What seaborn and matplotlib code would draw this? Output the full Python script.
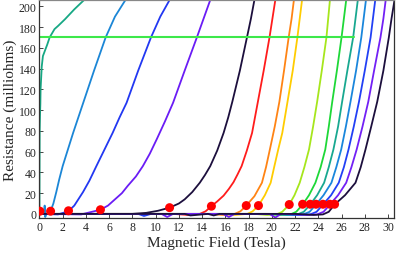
import numpy as np
import pandas as pd
import matplotlib
matplotlib.use('Agg')
import matplotlib.pyplot as plt
import seaborn as sns

# curves: field (T) and resistance (milliohms)
b_01 = [0.0, 0.02, 0.05, 0.08, 0.1, 0.2, 0.3, 0.5, 0.67, 0.88, 1.3, 1.6, 2.2, 3.0, 3.84]
r_01 = [0, 80, 95, 106, 120, 142, 152, 158, 163, 170, 178, 181, 187.5, 197, 206]
b_02 = [0.0, 0.4, 0.45, 0.5, 0.6, 0.96, 1.2, 1.45, 1.7, 2.0, 2.45, 2.9, 3.35, 3.8, 4.7, 5.7, 6.5, 7.4]
r_02 = [0, 0, 8, -3, 0, 2.6, 10, 21, 33, 46, 62, 78, 93, 108, 138, 170, 190, 206]
b_03 = [0.0, 1.6, 2.5, 3.0, 3.75, 4.3, 4.9, 5.6, 6.3, 6.9, 7.5, 8.5, 9.6, 10.4, 11.2]
r_03 = [0, -0.5, 2.6, 8, 21, 32, 46, 62, 78, 93, 107, 138, 170, 190, 206]
b_04 = [0.0, 3.6, 5.25, 5.9, 6.5, 7.1, 7.6, 8.3, 8.9, 9.5, 10.1, 10.8, 11.5, 12.5, 13.55, 14.7]
r_04 = [0, -0.5, 4, 8, 14, 20, 27, 36, 46, 58, 72, 89, 107, 138, 170, 206]
b_05 = [0.0, 8.0, 9.2, 10.2, 11.2, 12.0, 12.5, 13.15, 13.8, 14.25, 14.7, 15.3, 15.85, 16.25, 16.6, 17.25, 17.86, 18.2, 18.5]
r_05 = [0, 0, 1, 3, 6, 10, 14, 21, 30, 37.5, 46, 61, 78, 93, 108, 138, 170, 188, 206]
b_06 = [0.0, 11.5, 12.8, 13.8, 14.3, 14.8, 15.3, 15.85, 16.3, 16.7, 17.05, 17.4, 17.85, 18.3, 18.8, 19.3, 19.8, 20.05, 20.3]
r_06 = [0, 0, -1, 0, 2.5, 7.4, 12, 17.6, 24, 30.5, 38, 46, 61, 78, 108, 138, 170, 188, 206]
b_07 = [0.0, 14.5, 15.8, 16.8, 17.3, 17.8, 18.5, 19.15, 19.5, 19.85, 20.25, 20.65, 21.05, 21.45, 21.7, 21.9]
r_07 = [0, 0, -1, 0, 2.5, 8, 17, 30, 45, 63, 84, 108, 138, 170, 188, 206]
b_08 = [0.0, 15.5, 16.8, 17.9, 18.35, 18.85, 19.4, 19.9, 20.2, 20.55, 20.9, 21.35, 21.8, 22.2, 22.4, 22.6]
r_08 = [0, 0, -1, 0, 2.5, 8, 18, 30, 45, 62, 78, 108, 138, 170, 188, 206]
b_09 = [0.0, 18.5, 19.6, 20.4, 20.9, 21.5, 21.95, 22.4, 22.8, 23.2, 23.55, 23.9, 24.3, 24.7, 24.85, 25.0]
r_09 = [0, 0, -1, -0.5, 2, 9, 18, 30, 45, 62, 84, 108, 138, 170, 188, 206]
b_10 = [0.0, 19.5, 20.7, 21.6, 22.1, 22.65, 23.2, 23.75, 24.2, 24.6, 24.9, 25.2, 25.6, 26.0, 26.2, 26.4]
r_10 = [0, 0, -1, -0.5, 2, 9, 18, 30, 45, 62, 84, 108, 138, 170, 188, 206]
b_11 = [0.0, 20.0, 21.3, 22.2, 22.75, 23.3, 23.9, 24.5, 24.9, 25.3, 25.7, 26.05, 26.5, 27.0, 27.2, 27.4]
r_11 = [0, 0, -1, -0.5, 2, 9, 18, 30, 45, 62, 84, 108, 138, 170, 188, 206]
b_12 = [0.0, 20.5, 21.8, 22.7, 23.25, 23.8, 24.45, 25.13, 25.55, 25.97, 26.37, 26.77, 27.25, 27.7, 27.9, 28.1]
r_12 = [0, 0, -1, -0.5, 2, 9, 18, 30, 45, 62, 84, 108, 138, 170, 188, 206]
b_13 = [0.0, 8.5, 9.0, 9.6, 21.0, 22.4, 23.3, 23.85, 24.4, 25.1, 25.76, 26.2, 26.6, 27.05, 27.5, 28.0, 28.5, 28.7, 28.9]
r_13 = [0, 0, -2, 0, 0, -1, -0.5, 2, 9, 18, 30, 45, 62, 84, 108, 138, 170, 188, 206]
b_14 = [0.0, 10.5, 11.0, 11.5, 15.8, 16.3, 16.8, 19.8, 20.3, 20.8, 21.5, 23.0, 23.9, 24.45, 25.0, 25.7, 26.4, 26.85, 27.3, 27.8, 28.3, 28.8, 29.35, 29.6, 29.8]
r_14 = [0, 0, -3, 0, 0, -3, 0, 0, -3.5, 0, 0, -1, -0.5, 2, 9, 18, 30, 45, 62, 84, 108, 138, 170, 188, 206]
b_15 = [0.0, 12.5, 13.0, 14.5, 15.0, 15.5, 22.0, 23.6, 24.4, 24.9, 25.4, 26.3, 27.2, 27.65, 28.06, 28.55, 29.07, 29.6, 30.07, 30.3, 30.56]
r_15 = [0, 0, -1.5, 0, -1.5, 0, 0, -1, -0.5, 2, 9, 18, 30, 45, 62, 84, 108, 138, 170, 188, 206]

curve_colors = ['#17a884', '#1b86d6', '#2238f2', '#6a1cf5', '#1c0f3d',
                '#ff1c1c', '#ff8414', '#ffcc00', '#a6e61c', '#1ed838',
                '#18a890', '#1a86dc', '#2240f5', '#7220f5', '#1c0f3d']

# onset markers
dot_b = [0.04, 0.96, 2.5, 5.25, 11.2, 14.8, 17.8, 18.85, 21.5, 22.65, 23.3, 23.8, 24.4, 25.0, 25.4]
dot_r = [2.6, 2.6, 3, 4, 6, 7.4, 8, 8, 9, 9.3, 9.3, 9.3, 9.3, 9.3, 9.3]

# horizontal reference line
ref_b = [0.0, 27.1]
ref_r = [170, 170]

fields = [b_01, b_02, b_03, b_04, b_05, b_06, b_07, b_08, b_09, b_10, b_11, b_12, b_13, b_14, b_15]
resist = [r_01, r_02, r_03, r_04, r_05, r_06, r_07, r_08, r_09, r_10, r_11, r_12, r_13, r_14, r_15]

rows = []
for i, (bb, rr) in enumerate(zip(fields, resist)):
    for b, r in zip(bb, rr):
        rows.append({'curve': i, 'B': b, 'R': r})
df = pd.DataFrame(rows)

sns.set_style('ticks')
plt.rcParams['font.family'] = ['Liberation Serif', 'DejaVu Serif']
plt.rcParams['xtick.direction'] = 'in'
plt.rcParams['ytick.direction'] = 'in'

fig = plt.figure(figsize=(4.15, 2.55), dpi=100)
ax = fig.add_axes([0.095, 0.141, 0.854, 0.855])

sns.lineplot(data=df, x='B', y='R', hue='curve', palette=curve_colors,
             estimator=None, sort=False, lw=1.3, legend=False, ax=ax)
for line in ax.lines:
    line.set_solid_joinstyle('round')
sns.lineplot(x=ref_b, y=ref_r, color='#3de84a', lw=1.5, ax=ax)
sns.scatterplot(x=dot_b, y=dot_r, color='#ff0000', s=42, edgecolor='none', zorder=5, ax=ax)

ax.set_xlim(0, 30.5)
ax.set_ylim(-4, 206)
ax.set_xticks(np.arange(0, 31, 2))
ax.set_yticks(np.arange(0, 201, 20))
ax.tick_params(labelsize=8.5, length=3, width=0.6, pad=2)
ax.set_xlabel('Magnetic Field (Tesla)', fontsize=11, labelpad=2)
ax.set_ylabel('Resistance (milliohms)', fontsize=11, labelpad=1)
for s in ['left', 'bottom', 'right']:
    ax.spines[s].set_color('#333333')
ax.spines['top'].set_color('#888888')
for s in ax.spines.values():
    s.set_linewidth(0.9)

fig.savefig('out.png', dpi=100)
